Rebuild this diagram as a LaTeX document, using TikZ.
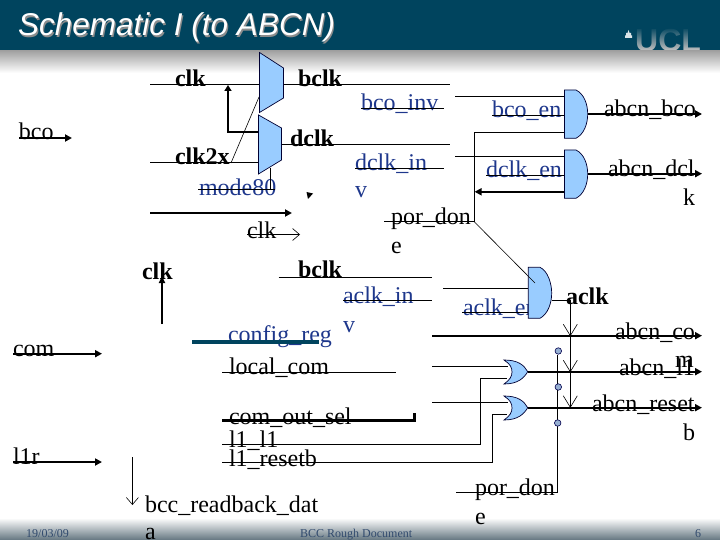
\documentclass[tikz,border=0pt]{standalone}
\usepackage{fontspec}
\setmainfont{Liberation Serif}
\newfontfamily\arialf{Liberation Sans}
\usetikzlibrary{arrows.meta,fadings,shadings,calc}
\definecolor{hdr}{RGB}{0,68,94}
\definecolor{sig}{RGB}{30,55,140}
\definecolor{gate}{RGB}{153,204,255}
\definecolor{foot}{RGB}{50,75,110}
\definecolor{footbg}{RGB}{100,118,128}
\definecolor{bub}{RGB}{150,175,210}
\tikzset{
 txt/.style={anchor=base west,inner sep=0pt,outer sep=0pt,font=\fontsize{24}{24}\selectfont},
 bluetxt/.style={txt,text=sig},
 boldtxt/.style={txt,font=\fontsize{24}{24}\selectfont\bfseries},
 foottxt/.style={anchor=base west,inner sep=0pt,text=foot,font=\fontsize{12}{12}\selectfont},
 wire/.style={draw=black,line width=0.9pt},
 thin wire/.style={draw=black,line width=0.6pt},
 bus/.style={draw=black,line width=2pt},
 arr/.style={bus,-{Triangle[length=7pt,width=7pt]}},
 openarr/.style={wire,-{Straight Barb[length=7pt,width=12pt,line width=0.6pt]}},
 gatebody/.style={fill=gate,draw=black!80!blue,line width=0.7pt},
 bubble/.style={circle,minimum size=6.5pt,inner sep=0pt,fill=bub,draw=black!70!blue,line width=0.6pt},
}
\begin{document}
\begin{tikzpicture}[x=1pt,y=-1pt]
\useasboundingbox (0,0) rectangle (720,540);
\fill[white] (0,0) rectangle (720,540);
% header, footer
\shade[top color=black!38,bottom color=white] (0,50) rectangle (720,73);
\shade[top color=white,bottom color=footbg] (0,518) rectangle (720,540);
\fill[hdr] (0,0) rectangle (720,50);
\node[anchor=base west,inner sep=0pt,text=black!45,font=\arialf\itshape\fontsize{31.5}{32}\selectfont] (titleS) at (19.2,37.2) {Schematic I (to ABCN)};
\node[anchor=base west,inner sep=0pt,text=white,font=\arialf\itshape\fontsize{31.5}{32}\selectfont] (title) at (18,36) {Schematic I (to ABCN)};
\begin{scope}
\clip (620,20) rectangle (710,50);
\node[anchor=base west,inner sep=0pt,text=black!25,font=\arialf\bfseries\fontsize{32}{32}\selectfont] (ucl) at (635,52) {UCL};
\fill[hdr,path fading=south] (630,27) rectangle (710,50);
\end{scope}
\fill[white!85!hdr] (625,38) rectangle (632,35.5) (626,35.5) rectangle (631,33) (627.5,33) -- (628.5,30) -- (629.5,33) -- cycle;

% wire end points
\foreach \n/\x/\y in {
 clkA/150/84.5, muxAin/259/84.5, muxAout/283.5/84.5, bclkE/450/84.5,
 fbA/259/132.5, fbB/228/132.5, fbC/228/85,
 ckxA/150/162.5, muxBin/258.5/162.5, selA/231/163, selB/259/97,
 modeA/198/189.5, modeB/275/189.5, modeC/270/168, modeD/270/189.5,
 busA/150/213, busB/292/213, ckA/247/234.5, ckB/300/234.5,
 bcoA/19/138, bcoB/72/138, comA/13/353.7, comB/102/353.7, lrA/13/462, lrB/102/462,
 upA/162/324, upB/162/276,
 dnA/132.4/457, dnB/132.4/505,
 muxBout/281.5/144.5, dclkE/450/144.5,
 invA/361/108.3, invB/444/108.3, inA/355/168.3, inB/444/168.3,
 enAi/455/96.3, enAp/564.5/96.3, enAj/564.5/132.3, enAc/474.3/132.3, enAd/474.3/221.8, porA/384/221.8,
 diag/535/283,
 beA/492/115, beB/564.5/115, deA/486/175, deB/564.5/175,
 enBi/455/156.3, enBp/564.5/156.3, fbkA/564.5/191.8, fbkB/474.6/191.8,
 enAo/587.7/114, outA/702/114, enBo/587.7/173.7, outB/702/173.7,
 bclkA/278.5/277.4, bclkB/432/277.4, acA/343/300.4, acB/432/300.4,
 cfgA/192/341.7, cfgB/319/341.7,
 lcA/222/372.3, lcB/396/372.3,
 cosA/222/420, cosB/414/420, cosC/414/413,
 llA/222/444.4, llB/480/444.4, llC/480/378.3, llD/507/378.3,
 rsA/222/462.4, rsB/492.4/462.4, rsC/492.4/414.3, rsD/507/414.3,
 enCi/443/288.3, enCp/528.3/288.3, aeA/462/312.7, aeB/528.3/312.7,
 enCo/551.7/300.3, vA/570.3/300.3, vB/570.3/335.7, vC/570.3/371.7, vD/570.3/407.3,
 comBusA/432/335.7, comBusB/702/335.7,
 orAa/432/366.3, orAb/508/366.3, orAo/527.7/371.7, outC/702/371.7,
 orBa/432/402.3, orBb/508/402.3, orBo/527.7/407.7, outD/702/407.7,
 vbA/557.5/355, vbB/557.5/492.3, porB/456/492.3}
 {\coordinate (\n) at (\x,\y);}

% texts
\node[txt] (tbco) at (19,140) {bco};
\node[boldtxt] (tclkA) at (175,87) {clk};
\node[boldtxt] (tbclkA) at (298,87) {bclk};
\node[bluetxt] (tinv) at (361,111) {bco\_inv};
\node[bluetxt] (tbe) at (492,118) {bco\_en};
\node[txt] (tabco) at (604,117) {abcn\_bco};
\node[boldtxt] (tdclk) at (290,147) {dclk};
\node[boldtxt] (tckx) at (175,165) {clk2x};
\node[bluetxt] (tdin) at (355,171) {dclk\_in};
\node[bluetxt] (tdinv) at (355,197) {v};
\node[bluetxt] (tde) at (486,178) {dclk\_en};
\node[txt] (tadcl) at (608,176.5) {abcn\_dcl};
\node[txt] (tadk) at (683,206) {k};
\node[bluetxt] (tmode) at (199,196) {mode80};
\node[txt] (tpor) at (391,225) {por\_don};
\node[txt] (tpore) at (391,254) {e};
\node[txt] (tclkB) at (247,238) {clk};
\node[boldtxt] (tclkC) at (142,279) {clk};
\node[boldtxt] (tbclkB) at (298,277) {bclk};
\node[bluetxt] (tain) at (343,303) {aclk\_in};
\node[bluetxt] (tainv) at (343,332) {v};
\node[bluetxt] (tae) at (463,315) {aclk\_en};
\node[boldtxt] (taclk) at (566,304) {aclk};
\node[txt] (tacom) at (615,339) {abcn\_co};
\node[txt] (tacm) at (675,367) {m};
\node[bluetxt] (tcfg) at (228,342) {config\_reg};
\node[txt] (tcom) at (13,356) {com};
\node[txt] (tlocal) at (229,374) {local\_com};
\node[txt] (tal) at (619,375) {abcn\_l1};
\node[txt] (tare) at (592,411) {abcn\_reset};
\node[txt] (tarb) at (683,440) {b};
\node[txt] (tcos) at (229,424) {com\_out\_sel};
\node[txt] (tll) at (229,447) {l1\_l1};
\node[txt] (trs) at (229,466) {l1\_resetb};
\node[txt] (tlr) at (13,464) {l1r};
\node[txt] (tpoB) at (475,495) {por\_don};
\node[txt] (tpoBe) at (475,524) {e};
\node[txt] (trb) at (145,512) {bcc\_readback\_dat};
\node[txt] (trba) at (145,539.5) {a};
\node[foottxt] (fd) at (26,537) {19/03/09};
\node[foottxt] (fm) at (300,537) {BCC Rough Document};
\node[foottxt] (fp) at (695,537) {6};

% connectors
\draw[wire] (clkA) -- (muxAin);
\draw[wire] (muxAout) -- (bclkE);
\draw[wire] (ckxA) -- (muxBin);
\draw[wire] (muxBout) -- (dclkE);
\draw[thin wire] (selA) -- (selB);
\draw[wire] (modeA) -- (modeB);
\draw[thin wire] (modeC) -- (modeD);
\draw[bus,-{Triangle[length=6pt,width=7pt]}] (fbA) -- (fbB) -- (fbC);
\draw[arr] (busA) -- (busB);
\draw[openarr,line width=0.6pt] (ckA) -- (ckB);
\draw[arr] (bcoA) -- (bcoB);
\draw[arr] (comA) -- (comB);
\draw[arr] (lrA) -- (lrB);
\draw[bus,-{Triangle[length=7pt,width=6pt]}] (upA) -- (upB);
\draw[openarr] (dnA) -- (dnB);
\draw[wire] (invA) -- (invB);
\draw[wire] (inA) -- (inB);
\draw[wire] (enAi) -- (enAp);
\draw[wire] (enAj) -- (enAc) -- (enAd) -- (porA);
\draw[wire] (beA) -- (beB);
\draw[wire] (deA) -- (deB);
\draw[wire] (enBi) -- (enBp);
\draw[arr] (fbkA) -- (fbkB);
\draw[arr] (enAo) -- (outA);
\draw[arr] (enBo) -- (outB);
\draw[wire] (bclkA) -- (bclkB);
\draw[wire] (acA) -- (acB);
\draw[draw=hdr,line width=4pt] (cfgA) -- (cfgB);
\draw[wire] (lcA) -- (lcB);
\draw[bus,line width=3pt,line join=miter] (cosA) -- (cosB) -- (cosC);
\draw[wire] (llA) -- (llB) -- (llC) -- (llD);
\draw[wire] (rsA) -- (rsB) -- (rsC) -- (rsD);
\draw[wire] (enCi) -- (enCp);
\draw[wire] (aeA) -- (aeB);
\draw[arr] (comBusA) -- (comBusB);
\draw[wire] (orAa) -- (orAb);
\draw[wire] (orBa) -- (orBb);

% gates
\draw[gatebody] (259.5,52.5) -- (283.5,68) -- (283.5,98) -- (259.5,112.5) -- cycle;
\draw[gatebody] (258.5,115) -- (281.5,128) -- (281.5,160) -- (258.5,174) -- cycle;
\foreach \t in {90,150}{
 \draw[gatebody] (564.5,\t) -- (576,\t) .. controls (584,\t+4) and (587.7,\t+14) .. (587.7,\t+24) .. controls (587.7,\t+34) and (584,\t+44) .. (576,\t+48.3) -- (564.5,\t+48.3) -- cycle;
}
\draw[gatebody] (528.3,267.3) -- (540,267.3) .. controls (548,271) and (551.7,284) .. (551.7,293) .. controls (551.7,303) and (548,314) .. (540,318.3) -- (528.3,318.3) -- cycle;
\foreach \t in {0,36}{
 \draw[gatebody] (504,360+\t) .. controls (518,360+\t) and (524,365+\t) .. (527.7,371.7+\t) .. controls (524,378+\t) and (518,384+\t) .. (504,384+\t) .. controls (510,380+\t) and (512,376+\t) .. (512,372+\t) .. controls (512,367+\t) and (510,364+\t) .. (504,360+\t) -- cycle;
}
\draw[thin wire] (enAd) -- (diag);
\fill[black] (306.5,192) -- (313,193.5) -- (308,199) -- cycle;

% gate outputs
\draw[wire] (enCo) -- (vA);
\draw[wire] (vA) -- (vD);
\foreach \p in {vB,vC,vD}{
 \draw[line width=0.6pt] ($(\p)+(-7,-11.5)$) -- (\p) -- ($(\p)+(7,-11.5)$);
}
\draw[arr] (orAo) -- (outC);
\draw[arr] (orBo) -- (outD);
\draw[wire] (vbB) -- (vbA);
\draw[wire] (vbB) -- (porB);
\node[bubble] (bA) at (558.3,351) {};
\node[bubble] (bB) at (558.3,387) {};
\node[bubble] (bC) at (557.7,423) {};
\end{tikzpicture}
\end{document}
